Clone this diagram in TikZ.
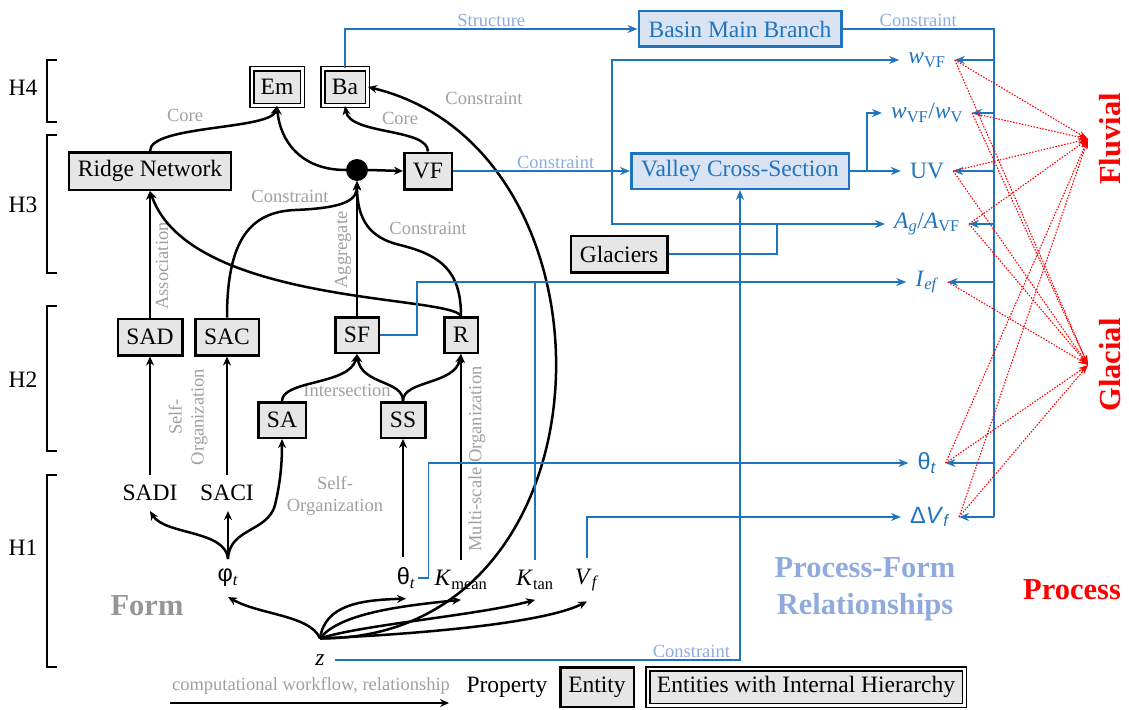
\documentclass[tikz,border=0pt]{standalone}
\usepackage{fontspec}
\setmainfont{Liberation Serif}
\setsansfont{Liberation Sans}
\usetikzlibrary{arrows.meta,calc}
\definecolor{pblue}{RGB}{32,116,190}
\definecolor{lblue}{RGB}{143,170,220}
\definecolor{bfill}{RGB}{218,227,243}
\definecolor{gfill}{RGB}{230,230,230}
\definecolor{lgray}{RGB}{160,160,160}
\definecolor{fgray}{RGB}{150,150,150}
\newcommand{\myfs}[1]{\fontsize{#1}{#1}\selectfont}
\tikzset{
 ent/.style={draw=black, line width=2.5pt, fill=gfill, inner sep=0pt, font=\myfs{23.5}},
 hent/.style={draw=black, double=white, line width=1.5pt, double distance=2.5pt, fill=gfill, inner sep=0pt, font=\myfs{23.5}},
 bent/.style={draw=pblue, line width=2.5pt, fill=bfill, text=pblue, inner sep=0pt, font=\myfs{23.5}},
 prop/.style={inner xsep=3pt, inner ysep=10pt, font=\myfs{23.5}},
 bprop/.style={text=pblue, inner xsep=9pt, inner ysep=2pt, font=\myfs{23.5}},
 lab/.style={text=lgray, font=\fontsize{18.5}{22}\selectfont, inner sep=1pt},
 blab/.style={text=lblue, font=\fontsize{18.5}{22}\selectfont, inner sep=2pt},
 arr/.style={line width=2.5pt, -{Stealth[length=9pt,width=8pt]}},
 bline/.style={draw=pblue, line width=1.5pt},
 barr/.style={bline, -{Stealth[length=10pt,width=8pt]}},
 rarr/.style={red, line width=1.1pt, dash pattern=on 1.5pt off 1.5pt, -{Stealth[length=10pt,width=6pt]}},
 brk/.style={line width=2.5pt},
 big/.style={font=\bfseries\myfs{30.5}}
}
\begin{document}
\begin{tikzpicture}[x=1pt,y=-1pt]
\useasboundingbox (0,0) rectangle (1129,709);

% hierarchy levels
\node[font=\myfs{23.5}] (h4) at (23,88) {H4};
\node[font=\myfs{23.5}] (h3) at (23,205) {H3};
\node[font=\myfs{23.5}] (h2) at (23,380) {H2};
\node[font=\myfs{23.5}] (h1) at (23,548) {H1};
\draw[brk] (57,60) -| (47,122) -- (57,122);
\draw[brk] (57,135) -| (47,273) -- (57,273);
\draw[brk] (57,306) -| (47,451) -- (57,451);
\draw[brk] (57,475) -| (47,667) -- (57,667);

% entities
\node[hent, minimum width=50.5pt, minimum height=36.5pt] (em) at (277,87) {Em};
\node[hent, minimum width=44.5pt, minimum height=36.5pt] (ba) at (345,87) {Ba};
\node[ent, minimum width=162pt, minimum height=37.5pt] (ridge) at (150,171) {Ridge Network};
\node[circle, fill=black, inner sep=0pt, minimum size=22pt] (dot) at (357,170) {};
\node[ent, minimum width=47.5pt, minimum height=36.5pt] (vf) at (428,171) {VF};
\node[bent, minimum width=202.5pt, minimum height=35.5pt] (basin) at (740,29) {Basin Main Branch};
\node[bent, minimum width=217.5pt, minimum height=35.5pt] (vcs) at (740,171) {Valley Cross-Section};
\node[ent, minimum width=96.5pt, minimum height=36.5pt] (glac) at (619,254) {Glaciers};
\node[ent, minimum width=64.5pt, minimum height=36.5pt] (sad) at (150,337) {SAD};
\node[ent, minimum width=63.5pt, minimum height=36.5pt] (sac) at (227,337) {SAC};
\node[ent, minimum width=43.5pt, minimum height=35.5pt] (sf) at (357,335) {SF};
\node[ent, minimum width=33.5pt, minimum height=35.5pt] (r) at (461,335) {R};
\node[ent, minimum width=47.5pt, minimum height=35.5pt] (sa) at (282,420) {SA};
\node[ent, minimum width=44.5pt, minimum height=35.5pt] (ss) at (403,420) {SS};

% properties
\node[prop] (sadi) at (150,493) {SADI};
\node[prop] (saci) at (227,493) {SACI};
\node[prop] (phi) at (228,578) {{\sffamily φ}\textsubscript{\textit{t}}};
\node[prop] (th) at (406,578) {{\sffamily θ}\textsubscript{\textit{t}}};
\node[prop] (kmean) at (461,580) {\textit{K}\textsubscript{mean}};
\node[prop] (ktan) at (535,580) {\textit{K}\textsubscript{tan}};
\node[prop] (vfp) at (587,580) {\textit{V}\textsubscript{\textit{f}}};
\node[prop, inner xsep=10pt, inner ysep=16pt] (z) at (320,660) {\textit{z}};

% blue properties
\node[bprop] (wvf) at (927,60) {\textit{w}\textsubscript{VF}};
\node[bprop] (wvfv) at (927,113) {\textit{w}\textsubscript{VF}/\textit{w}\textsubscript{V}};
\node[bprop] (uv) at (927,171) {UV};
\node[bprop] (ag) at (927,224) {\textit{A}\textsubscript{\textit{g}}/\textit{A}\textsubscript{VF}};
\node[bprop] (ief) at (927,282) {\textit{I}\textsubscript{\textit{ef}}};
\node[bprop] (thb) at (927,463) {\sffamily θ\textsubscript{\textit{t}}};
\node[bprop] (dv) at (930,517) {\sffamily Δ\textit{V}\textsubscript{\textit{f}}};

% big labels
\node[big, text=fgray] (form) at (147,606) {Form};
\node[text=lblue, font=\bfseries\fontsize{30.5}{37}\selectfont, align=center] (pf) at (865,589) {Process-Form\\Relationships};
\node[big, text=red] (proc) at (1072,590) {Process};
\node[big, text=red, rotate=90, inner sep=11pt] (fluv) at (1110,139) {Fluvial};
\node[big, text=red, rotate=90, inner sep=11pt] (glc) at (1110,365) {Glacial};

% gray labels
\node[lab] (lcore1) at (185,115) {Core};
\node[lab] (lcore2) at (400,118) {Core};
\node[lab] (lcon1) at (484,98) {Constraint};
\node[lab] (lcon2) at (290,196) {Constraint};
\node[lab] (lcon3) at (428,228) {Constraint};
\node[lab, rotate=90] (lassoc) at (162,266) {Association};
\node[lab, rotate=90] (lagg) at (343,250) {Aggregate};
\node[lab, rotate=90, align=center] (lso1) at (188,417) {Self-\\Organization};
\node[lab] (lint) at (347,390) {Intersection};
\node[lab, align=center] (lso2) at (335,496) {Self-\\Organization};
\node[lab, rotate=90] (lmso) at (477,459) {Multi-scale Organization};

% black workflow arrows
\draw[arr] (ridge.north) .. controls (150,125) and (270,130) .. (em.south);
\draw[arr] (dot.west) .. controls (300,170) and (280,140) .. (em.south);
\draw[arr] (vf.north) .. controls (428,128) and (350,135) .. (ba.south);
\draw[arr] (dot.east) -- (vf.west);
\draw[arr] (z.north) .. controls (620,640) and (630,150) .. (ba.east);
\draw[arr] (sad.north) -- (ridge.south);
\draw[arr] (r.north) .. controls (450,295) and (190,305) .. (ridge.south);
\draw[arr] (sac.north) .. controls (227,240) and (250,212) .. (295,210) .. controls (345,208) and (357,200) .. (dot.south);
\draw[arr] (sf.north) -- (dot.south);
\draw[arr] (r.north) .. controls (461,270) and (440,255) .. (400,245) .. controls (370,238) and (357,220) .. (dot.south);
\draw[arr] (sa.north) .. controls (282,380) and (350,385) .. (sf.south);
\draw[arr] (ss.north) .. controls (403,380) and (362,385) .. (sf.south);
\draw[arr] (ss.north) .. controls (403,380) and (455,385) .. (r.south);
\draw[arr] (sadi.north) -- (sad.south);
\draw[arr] (saci.north) -- (sac.south);
\draw[arr] (th.north -| ss.south) -- (ss.south);
\draw[arr] (kmean.north) -- (r.south);
\draw[arr] (phi.north) .. controls (226,530) and (165,535) .. (sadi.south);
\draw[arr] (phi.north) -- (phi.north |- saci.south);
\draw[arr] (phi.north) .. controls (229,528) and (268,532) .. (275,505) .. controls (281,480) and (282,460) .. (sa.south);
\draw[arr] (z.north) .. controls (310,615) and (260,615) .. (phi.south);
\draw[arr] (z.north) .. controls (325,605) and (360,600) .. (th.south);
\draw[arr] (z.north) .. controls (340,612) and (410,605) .. (kmean.south);
\draw[arr] (z.north) .. controls (360,625) and (480,615) .. (ktan.south);
\draw[arr] (z.north) .. controls (400,635) and (540,625) .. (vfp.south);

% blue relationships
\coordinate (sp) at (994,29);
\coordinate (spb) at (994,517);
\draw[barr] (ba.north) |- node[pos=0.75, above, blab] (lstr) {Structure} (basin.west);
\draw[bline] (basin.east) -- node[above, blab] (lcb) {Constraint} (sp) -- (spb);
\foreach \n in {wvf,wvfv,uv,ag,ief,thb,dv} \draw[barr] (sp |- \n.east) -- (\n.east);
\coordinate (gj) at (777,224);
\coordinate (gk) at (612,224);
\draw[bline] (glac.east) -| (gj);
\draw[barr] (gj) -- (ag.west);
\draw[barr] (gj) -- (gk) |- (wvf.west);
\draw[barr] (vf.east) -- node[pos=0.58, above, blab] (lcv) {Constraint} (vcs.west);
\draw[barr] (vcs.east) -- (uv.west);
\draw[barr] ($(vcs.east)+(17,0)$) |- (wvfv.west);
\draw[barr] (sf.east) -- ++(37,0) |- (ief.west);
\draw[bline] (ktan.north) -- (ktan.north |- ief.west);
\draw[barr] (th.east) -- ++(10,0) |- (thb.west);
\draw[barr] (vfp.north) |- (dv.west);
\draw[barr] (z.east) -| node[pos=0.44, above, blab] (lcz) {Constraint} (vcs.south);

% process links
\foreach \n in {wvf,wvfv,uv,ag,thb,dv} \draw[rarr] (\n.east) -- (fluv.north);
\foreach \n in {wvf,wvfv,uv,ag,ief,thb,dv} \draw[rarr] (\n.east) -- (glc.north);

% legend
\coordinate (la) at (170,703);
\coordinate (lb) at (449,703);
\draw[arr] (la) -- (lb);
\node[lab] (lwf) at (311,686) {computational workflow, relationship};
\node[font=\myfs{23.5}] (lprop) at (507,687) {Property};
\node[ent, minimum width=73.5pt, minimum height=39.5pt] (lent) at (597,687) {Entity};
\node[hent, minimum width=316.5pt, minimum height=36.5pt] (lhier) at (806,687) {Entities with Internal Hierarchy};
\end{tikzpicture}
\end{document}
